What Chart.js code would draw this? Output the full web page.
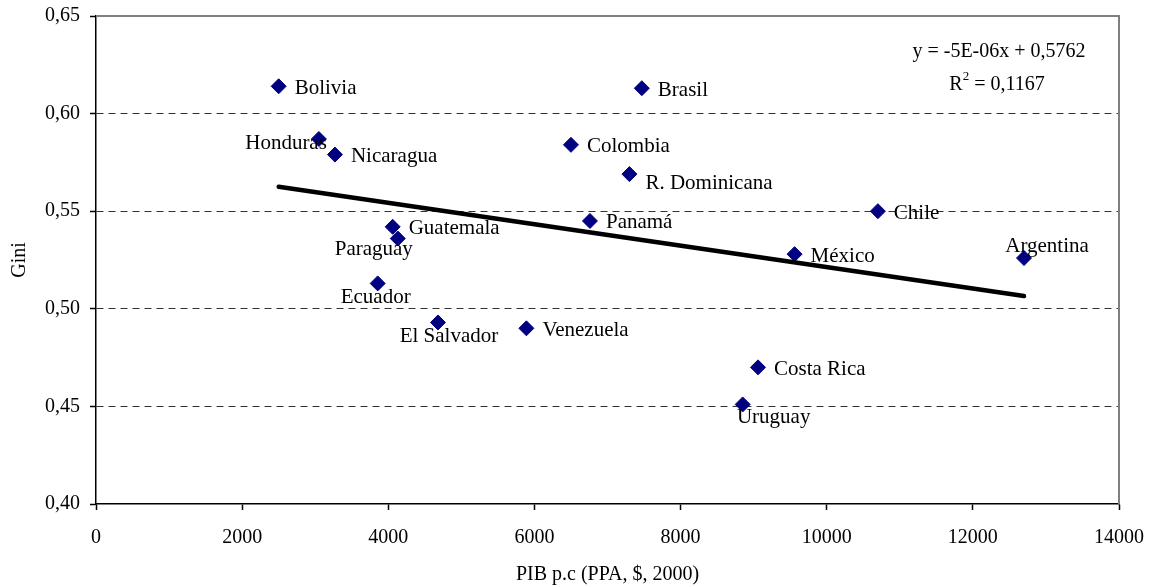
<!DOCTYPE html>
<html>
<head>
<meta charset="utf-8">
<script src="https://cdn.jsdelivr.net/npm/chart.js@4"></script>
<style>
  body { margin: 0; background: #fff; }
</style>
</head>
<body>
<canvas id="giniChart" width="1149" height="587"></canvas>
<script>
// Gini vs PIB per capita, America Latina
const countries = ["Bolivia", "Brasil", "Honduras", "Nicaragua", "Colombia", "R. Dominicana", "Chile", "Panamá",
  "Guatemala", "Paraguay", "México", "Argentina", "Ecuador", "El Salvador", "Venezuela", "Costa Rica", "Uruguay"];
const pib = [2500, 7470, 3050, 3270, 6500, 7300, 10700, 6760, 4060, 4130, 9560, 12700, 3855, 4680, 5890, 9060, 8850];
const gini = [0.614, 0.613, 0.587, 0.579, 0.584, 0.569, 0.550, 0.545, 0.542, 0.536, 0.528, 0.526, 0.513, 0.493, 0.490, 0.470, 0.451];

const equationText = "y = -5E-06x + 0,5762";
const r2Value = "0,1167";

// label placement: [dx, dy, align]
const labelPos = {
  "Honduras": [8, 3, "right"],
  "Paraguay": [-24, 9, "center"],
  "Ecuador": [-2, 12, "center"],
  "El Salvador": [11, 12, "center"],
  "Argentina": [23, -14, "center"],
  "Uruguay": [31, 11, "center"],
  "R. Dominicana": [16, 7, "left"]
};

const FONT = "'Liberation Serif', 'Times New Roman', serif";

// least squares trend line
const n = pib.length;
const mx = pib.reduce((a, b) => a + b, 0) / n;
const my = gini.reduce((a, b) => a + b, 0) / n;
let sxy = 0, sxx = 0;
for (let i = 0; i < n; i++) { sxy += (pib[i] - mx) * (gini[i] - my); sxx += (pib[i] - mx) ** 2; }
const slope = sxy / sxx;
const intercept = my - slope * mx;
const xMin = Math.min(...pib), xMax = Math.max(...pib);
const trend = [{ x: xMin, y: intercept + slope * xMin }, { x: xMax, y: intercept + slope * xMax }];

const points = pib.map((v, i) => ({ x: v, y: gini[i] }));

const frame = {
  id: 'frame',
  beforeDatasetsDraw(chart) {
    const { ctx, chartArea: a } = chart;
    ctx.save();
    ctx.strokeStyle = '#808080';
    ctx.lineWidth = 2;
    ctx.beginPath();
    ctx.moveTo(a.left, a.top);
    ctx.lineTo(a.right, a.top);
    ctx.lineTo(a.right, a.bottom);
    ctx.stroke();
    ctx.restore();
  },
  afterDatasetsDraw(chart) {
    const { ctx, chartArea: a } = chart;
    const meta = chart.getDatasetMeta(0);
    ctx.save();
    ctx.font = '21px ' + FONT;
    ctx.fillStyle = '#000';
    ctx.textBaseline = 'middle';
    meta.data.forEach((pt, i) => {
      const p = labelPos[countries[i]] || [16, 0, 'left'];
      ctx.textAlign = p[2];
      ctx.fillText(countries[i], pt.x + p[0], pt.y + p[1] + 2);
    });
    // equation
    ctx.font = '20px ' + FONT;
    ctx.textAlign = 'center';
    ctx.fillText(equationText, a.right - 120, a.top + 36);
    const r1 = 'R', r2 = ' = ' + r2Value;
    const w1 = ctx.measureText(r1).width, w2 = ctx.measureText(r2).width;
    ctx.font = '13px ' + FONT;
    const ws = ctx.measureText('2').width;
    const total = w1 + ws + w2;
    let x0 = a.right - 122 - total / 2;
    const y0 = a.top + 69;
    ctx.textAlign = 'left';
    ctx.font = '20px ' + FONT;
    ctx.fillText(r1, x0, y0);
    ctx.font = '13px ' + FONT;
    ctx.fillText('2', x0 + w1, y0 - 8);
    ctx.font = '20px ' + FONT;
    ctx.fillText(r2, x0 + w1 + ws, y0);
    ctx.restore();
  }
};

new Chart(document.getElementById('giniChart').getContext('2d'), {
  type: 'scatter',
  data: {
    datasets: [{
      label: 'Gini',
      data: points,
      pointStyle: 'rectRot',
      pointRadius: 7.5,
      pointBackgroundColor: '#000080',
      pointBorderColor: '#000080',
      pointBorderWidth: 1,
      order: 2
    }, {
      type: 'line',
      label: 'Tendencia',
      data: trend,
      borderColor: '#000',
      borderWidth: 4.5,
      borderCapStyle: 'round',
      pointRadius: 0,
      fill: false,
      order: 1
    }]
  },
  options: {
    responsive: false,
    animation: false,
    layout: { padding: { top: 16, right: 30, left: 0, bottom: 0 } },
    plugins: { legend: { display: false }, tooltip: { enabled: false } },
    scales: {
      x: {
        type: 'linear',
        min: 0, max: 14000,
        afterFit: s => { s.height = 83; s.paddingLeft = 0; s.paddingRight = 0; },
        ticks: { stepSize: 2000, color: '#000', font: { family: FONT, size: 20 }, padding: 16, maxRotation: 0,
          callback: v => String(v) },
        grid: { drawOnChartArea: false, tickLength: 6, tickColor: '#000', tickWidth: 1.5 },
        border: { color: '#000', width: 1.5 },
        title: { display: true, text: 'PIB p.c (PPA, $, 2000)', color: '#000', font: { family: FONT, size: 20 }, padding: 0 }
      },
      y: {
        min: 0.40, max: 0.65,
        afterFit: s => { s.width = 96; s.paddingTop = 0; s.paddingBottom = 0; },
        ticks: {
          stepSize: 0.05, color: '#000', font: { family: FONT, size: 20 }, padding: 10,
          callback: v => v.toFixed(2).replace('.', ',')
        },
        grid: {
          color: c => (c.tick && (Math.abs(c.tick.value - 0.40) < 1e-6 || Math.abs(c.tick.value - 0.65) < 1e-6)) ? 'rgba(0,0,0,0)' : '#333',
          tickBorderDash: [],
          tickLength: 6,
          tickColor: '#000',
          tickWidth: 1.5
        },
        border: { color: '#000', width: 1.5, dash: [7, 5] },
        title: { display: true, text: 'Gini', color: '#000', font: { family: FONT, size: 20 }, padding: { top: 8, bottom: 0 } }
      }
    }
  },
  plugins: [frame]
});
</script>
</body>
</html>
